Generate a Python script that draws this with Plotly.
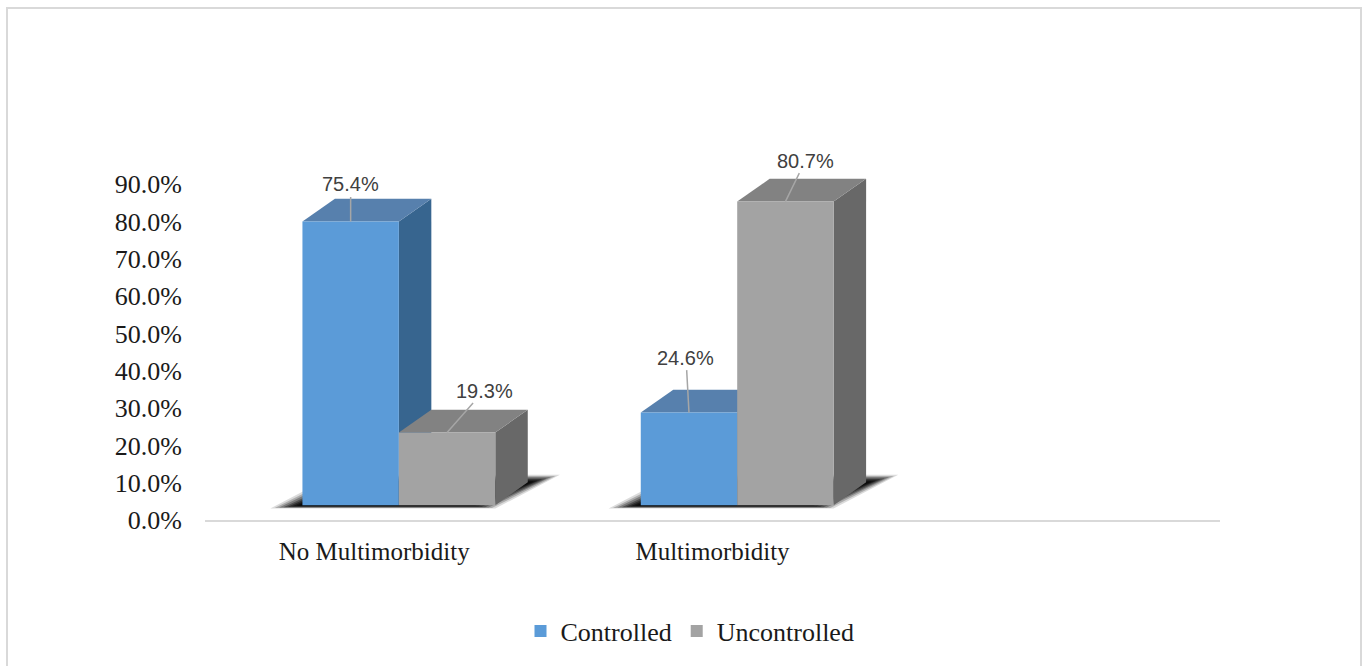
import plotly.graph_objects as go

# ---- data -------------------------------------------------------------
categories = ["No Multimorbidity", "Multimorbidity"]
series_names = ["Controlled", "Uncontrolled"]
controlled = [75.4, 24.6]
uncontrolled = [19.3, 80.7]
y_tick_values = [0, 10, 20, 30, 40, 50, 60, 70, 80, 90]
y_tick_labels = ["0.0%", "10.0%", "20.0%", "30.0%", "40.0%", "50.0%",
                 "60.0%", "70.0%", "80.0%", "90.0%"]

# ---- styling / geometry ----------------------------------------------
W, H = 1368, 666
M_L, M_R, M_T, M_B = 205, 148, 147, 143
PLOT_W = W - M_L - M_R
PLOT_H = H - M_T - M_B

BAR_W = 0.285                 # width of one bar in category units
OFFSETS = [-0.212, 0.073]     # left edge of each series relative to category
DEPTH_X = 0.096               # 3-D depth, horizontal (category units)
DEPTH_Y = 6.06                # 3-D depth, vertical (y2 units)

FRONT = ["#5b9bd8", "#a3a3a3"]
TOP = ["#5780ad", "#828282"]
SIDE = ["#37658f", "#686868"]

SERIF = "Liberation Serif, Times New Roman, serif"
SANS = "Liberation Sans, Arial, sans-serif"


def px_x(px):
    return (px - M_L) / PLOT_W


def px_y(py):
    return (H - M_B - py) / PLOT_H


fig = go.Figure()
series_values = [controlled, uncontrolled]
xs = list(range(len(categories)))

# empty trace so the percentage axis is attached to a subplot and drawn
fig.add_trace(go.Scatter(x=[], y=[], yaxis="y", showlegend=False,
                         hoverinfo="skip"))

for name, vals, off, col in zip(series_names, series_values, OFFSETS, FRONT):
    fig.add_trace(go.Bar(
        x=xs, y=vals, name=name, yaxis="y2",
        offset=off, width=BAR_W,
        marker=dict(color=col, line=dict(width=0)),
        hoverinfo="skip",
    ))

shapes = []


def poly(points, color, opacity=1.0):
    d = "M " + " L ".join(f"{x},{y}" for x, y in points) + " Z"
    return dict(type="path", path=d, xref="x", yref="y2", layer="below",
                fillcolor=color, opacity=opacity, line=dict(width=0))


# soft floor shadow under each pair of bars
for ci in xs:
    gl = ci + OFFSETS[0]
    gr = ci + OFFSETS[1] + BAR_W
    for k in range(7):
        s = k * 0.010
        pts = [
            (gl - 0.095 + s * 1.3, -0.9 + k * 0.12),
            (gr - s, -0.9 + k * 0.12),
            (gr + DEPTH_X + 0.095 - s * 1.3, DEPTH_Y + 2.0 - k * 0.3),
            (gl + DEPTH_X + s, DEPTH_Y + 2.0 - k * 0.3),
        ]
        shapes.append(poly(pts, "#000000", 0.14 + 0.07 * k))

# side and top faces, left series first so the right series covers it
for ci in xs:
    for si, vals in enumerate(series_values):
        v = vals[ci]
        x0 = ci + OFFSETS[si]
        x1 = x0 + BAR_W
        side = [(x1, 0), (x1 + DEPTH_X, DEPTH_Y),
                (x1 + DEPTH_X, v + DEPTH_Y), (x1, v)]
        top = [(x0, v), (x1, v), (x1 + DEPTH_X, v + DEPTH_Y),
               (x0 + DEPTH_X, v + DEPTH_Y)]
        shapes.append(poly(side, SIDE[si]))
        shapes.append(poly(top, TOP[si]))

# outer frame around the chart area
shapes.append(dict(type="rect", xref="paper", yref="paper",
                   x0=px_x(7), x1=px_x(1361), y0=px_y(700), y1=px_y(7),
                   line=dict(color="#d9d9d9", width=2), fillcolor="rgba(0,0,0,0)",
                   layer="below"))

# value labels with leader lines
label_offsets = {  # (series, category): (ax, ay) in pixels
    (0, 0): (0, -37),
    (1, 0): (37, -42),
    (0, 1): (-3, -55),
    (1, 1): (20, -41),
}
annotations = []
for si, vals in enumerate(series_values):
    for ci in xs:
        ax, ay = label_offsets[(si, ci)]
        annotations.append(dict(
            x=ci + OFFSETS[si] + BAR_W / 2, y=vals[ci], xref="x", yref="y2",
            text=f"{vals[ci]:.1f}%", showarrow=True, arrowhead=0,
            arrowwidth=1.5, arrowcolor="#a6a6a6", ax=ax, ay=ay,
            font=dict(family=SANS, size=20, color="#404040"),
        ))

fig.update_layout(
    width=W, height=H,
    margin=dict(l=M_L, r=M_R, t=M_T, b=M_B),
    paper_bgcolor="white",
    plot_bgcolor="rgba(0,0,0,0)",
    barmode="overlay",
    shapes=shapes,
    annotations=annotations,
    showlegend=True,
    legend=dict(orientation="h", x=px_x(690), xanchor="center",
                y=px_y(635), yanchor="middle",
                font=dict(family=SERIF, size=26, color="#1a1a1a"),
                traceorder="normal", itemclick=False),
    xaxis=dict(range=[-0.5, 2.5], tickvals=xs, ticktext=categories,
               showgrid=False, zeroline=False, showline=True,
               linecolor="#d9d9d9", linewidth=2, ticks="",
               ticklabelstandoff=8,
               tickfont=dict(family=SERIF, size=25, color="#1a1a1a")),
    yaxis=dict(range=[0, 100], tickvals=y_tick_values, ticktext=y_tick_labels,
               showgrid=False, zeroline=False, showline=False, ticks="",
               ticklabelstandoff=22,
               tickfont=dict(family=SERIF, size=26, color="#1a1a1a")),
    yaxis2=dict(range=[-3.95, 95.2], overlaying="y", visible=False,
                showgrid=False, zeroline=False),
)

fig.write_html("out.html")
